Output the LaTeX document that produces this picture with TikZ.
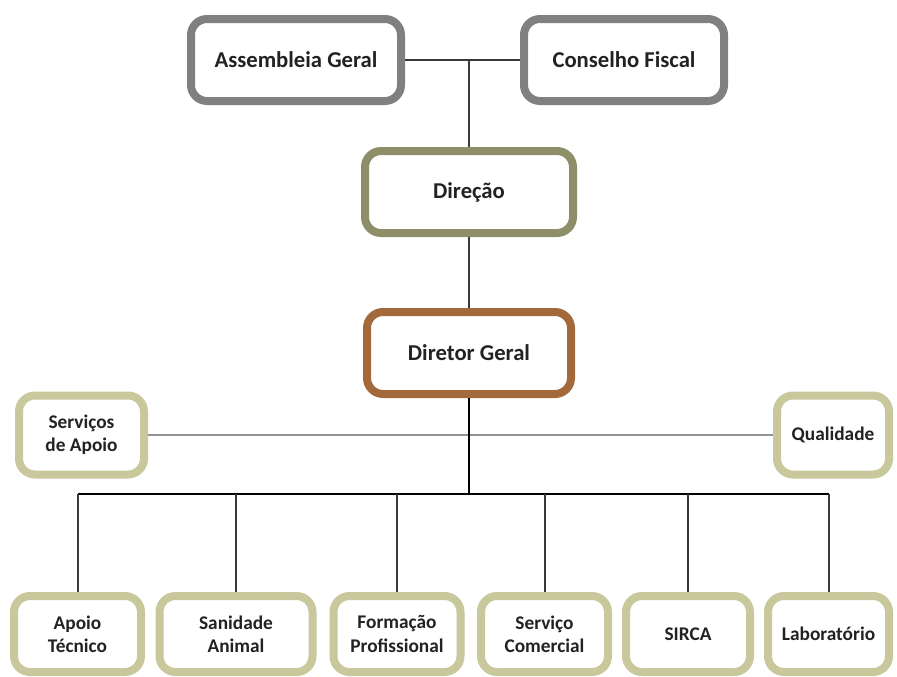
\documentclass[tikz,border=0pt]{standalone}
\usepackage{fontspec}
\setmainfont{Carlito}
\newdimen\px \px=0.75pt
\definecolor{boxgray}{HTML}{808080}
\definecolor{olive}{HTML}{8E8F68}
\definecolor{brown}{HTML}{A3693B}
\definecolor{khaki}{HTML}{C9C79C}
\definecolor{txt}{HTML}{222222}

\begin{document}
\begin{tikzpicture}[x=0.75pt,y=-0.75pt]
\tikzset{
box/.style={rectangle,rounded corners=12pt,line width=6pt,fill=white,text=txt,
inner sep=0pt,align=center,font=\bfseries\fontsize{17}{20}\selectfont},
topbox/.style={box,draw=boxgray,minimum height=82\px},
headbox/.style={box,minimum height=82\px},
unitbox/.style={box,draw=khaki,font=\bfseries\fontsize{14.5}{17.5}\selectfont},
sidebox/.style={unitbox,minimum height=79\px},
lowbox/.style={unitbox,minimum height=76\px},
myline/.style={draw=txt!90,line width=1.5pt},
thinline/.style={draw=gray!85,line width=1.3pt},
busline/.style={draw=black,line width=1.8pt},
}
\fill[white] (0,0) rectangle (897,676);
\useasboundingbox (0,0) rectangle (897,676);

\node [topbox, minimum width=210\px] (assembleia) at (296,60) {Assembleia Geral};
\node [topbox, minimum width=200\px] (conselho) at (624,60) {Conselho Fiscal};
\node [headbox, draw=olive, minimum width=208\px] (direcao) at (469,192) {Direção};
\node [headbox, draw=brown, minimum width=204\px] (diretor) at (469,353) {Diretor Geral};
\node [sidebox, minimum width=125\px] (servicos) at (81.5,435) {Serviços\\de Apoio};
\node [sidebox, minimum width=112\px] (qualidade) at (833,435) {Qualidade};
\node [lowbox, minimum width=127\px] (apoio) at (77.5,634) {Apoio\\Técnico};
\node [lowbox, minimum width=153\px] (sanidade) at (236,634) {Sanidade\\Animal};
\node [lowbox, minimum width=127\px] (formacao) at (397,634) {Formação\\Profissional};
\node [lowbox, minimum width=127\px] (comercial) at (544.5,634) {Serviço\\Comercial};
\node [lowbox, minimum width=124\px] (sirca) at (688,634) {SIRCA};
\node [lowbox, minimum width=121\px] (lab) at (828.5,634) {Laboratório};
\coordinate (topjoint) at (469,60);
\coordinate (bus) at (469,494);

\draw[myline] (assembleia) -- (conselho);
\draw[myline] (topjoint) -- (direcao);
\draw[myline] (direcao) -- (diretor);
\draw[thinline] (servicos) -- (qualidade);
\draw[busline, line width=2.2pt] (diretor) -- (bus);
\draw[busline] (apoio.north |- bus) -- (lab.north |- bus);
\foreach \unit in {apoio,sanidade,formacao,comercial,sirca,lab}
  \draw[myline] (\unit.north |- bus) -- (\unit);
\end{tikzpicture}
\end{document}
